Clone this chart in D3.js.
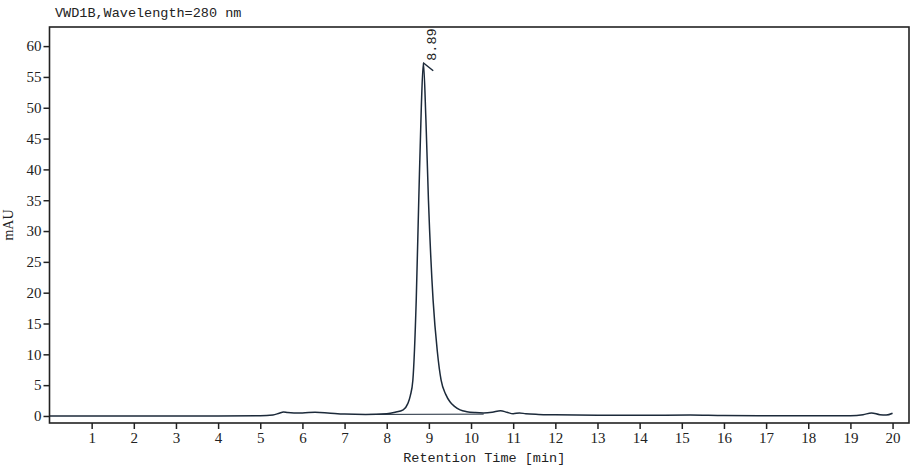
<!DOCTYPE html>
<html><head><meta charset="utf-8">
<script src="https://cdn.jsdelivr.net/npm/d3@7"></script>
<style>body{margin:0;background:#fff}svg{display:block}</style>
</head><body>
<svg id="c" width="920" height="467"></svg>
<script>
const title = "VWD1B,Wavelength=280 nm";
const xLabel = "Retention Time [min]";
const yLabel = "mAU";
const xTicks = [1,2,3,4,5,6,7,8,9,10,11,12,13,14,15,16,17,18,19,20];
const yTicks = [0,5,10,15,20,25,30,35,40,45,50,55,60];
const times = [0,1,2,3,4,5.0,5.3,5.45,5.55,5.65,5.8,6.0,6.3,6.6,7.0,7.5,8.0,8.2,8.39,8.5,8.56,8.62,8.70,8.76,8.82,8.87,8.93,8.99,9.10,9.20,9.29,9.40,9.50,9.60,9.74,9.9,10.1,10.3,10.5,10.7,10.85,11.0,11.15,11.3,11.6,12.0,13.0,14.0,15.2,16.0,17,18,19.0,19.3,19.5,19.7,19.85,20.0];
const signal = [0,0,0,0,0,0.02,0.15,0.45,0.65,0.55,0.5,0.5,0.6,0.5,0.3,0.25,0.35,0.6,1.0,2.0,3.3,5.8,18.8,35,50,57.3,48,35,18.8,10.5,5.8,3.5,2.3,1.6,1.0,0.7,0.55,0.5,0.6,0.85,0.6,0.35,0.5,0.35,0.25,0.2,0.12,0.1,0.15,0.07,0.05,0.05,0.05,0.2,0.5,0.2,0.15,0.45];
const peakTime = 8.89, peakValue = 57.3, peakLabel = "8.89";
const baseStart = [7.6, 0.25], baseEnd = [10.3, 0.3];

const svg = d3.select("#c");
const L = 49.5, R = 909, T = 27, B = 423;
const x = d3.scaleLinear().domain([0, 20.39]).range([L, R]);
const y = d3.scaleLinear().domain([-1.14, 63.1]).range([B, T]);
const col = "#1c2a3a";

svg.append("text").attr("x", 55).attr("y", 17).attr("font-family","Liberation Mono, monospace")
  .attr("font-size", 13.5).attr("fill","#222").text(title);

// curve
const pts = times.map((t,i)=>[t, signal[i]]);
svg.append("path").datum(pts)
  .attr("d", d3.line().x(d=>x(d[0])).y(d=>y(d[1])).curve(d3.curveMonotoneX))
  .attr("fill","none").attr("stroke",col).attr("stroke-width",1.5);
// integration baseline
svg.append("line").attr("x1",x(baseStart[0])).attr("y1",y(baseStart[1]))
  .attr("x2",x(baseEnd[0])).attr("y2",y(baseEnd[1])).attr("stroke",col).attr("stroke-width",1);

// frame
svg.append("rect").attr("x",L).attr("y",T).attr("width",R-L).attr("height",B-T)
  .attr("fill","none").attr("stroke","#222").attr("stroke-width",1.6);

// axes
const xa = svg.append("g").attr("transform",`translate(0,${B})`)
  .call(d3.axisBottom(x).tickValues(xTicks).tickSize(6).tickPadding(3).tickFormat(d3.format("d")));
const ya = svg.append("g").attr("transform",`translate(${L},0)`)
  .call(d3.axisLeft(y).tickValues(yTicks).tickSize(6).tickPadding(2).tickFormat(d3.format("d")));
[xa, ya].forEach(g=>{
  g.select(".domain").remove();
  g.selectAll("line").attr("stroke","#222").attr("stroke-width",1.5);
  g.selectAll("text").attr("font-family","Liberation Serif, serif").attr("font-size",15).attr("fill","#222");
});

// peak label
const px = x(peakTime), py = y(peakValue);
svg.append("line").attr("x1",px-1).attr("y1",py).attr("x2",px+9).attr("y2",py+8)
  .attr("stroke",col).attr("stroke-width",1.5);
svg.append("text").attr("transform",`translate(${px+12},${py-2}) rotate(-90)`)
  .attr("font-family","Liberation Mono, monospace").attr("font-size",13.5).attr("fill","#222").text(peakLabel);

// axis titles
svg.append("text").attr("x",(L+R)/2+5).attr("y",462).attr("text-anchor","middle")
  .attr("font-family","Liberation Mono, monospace").attr("font-size",13.5).attr("fill","#222").text(xLabel);
svg.append("text").attr("transform",`translate(13,${(T+B)/2}) rotate(-90)`).attr("text-anchor","middle")
  .attr("font-family","Liberation Serif, serif").attr("font-size",14).attr("fill","#222").text(yLabel);
</script>
</body></html>
